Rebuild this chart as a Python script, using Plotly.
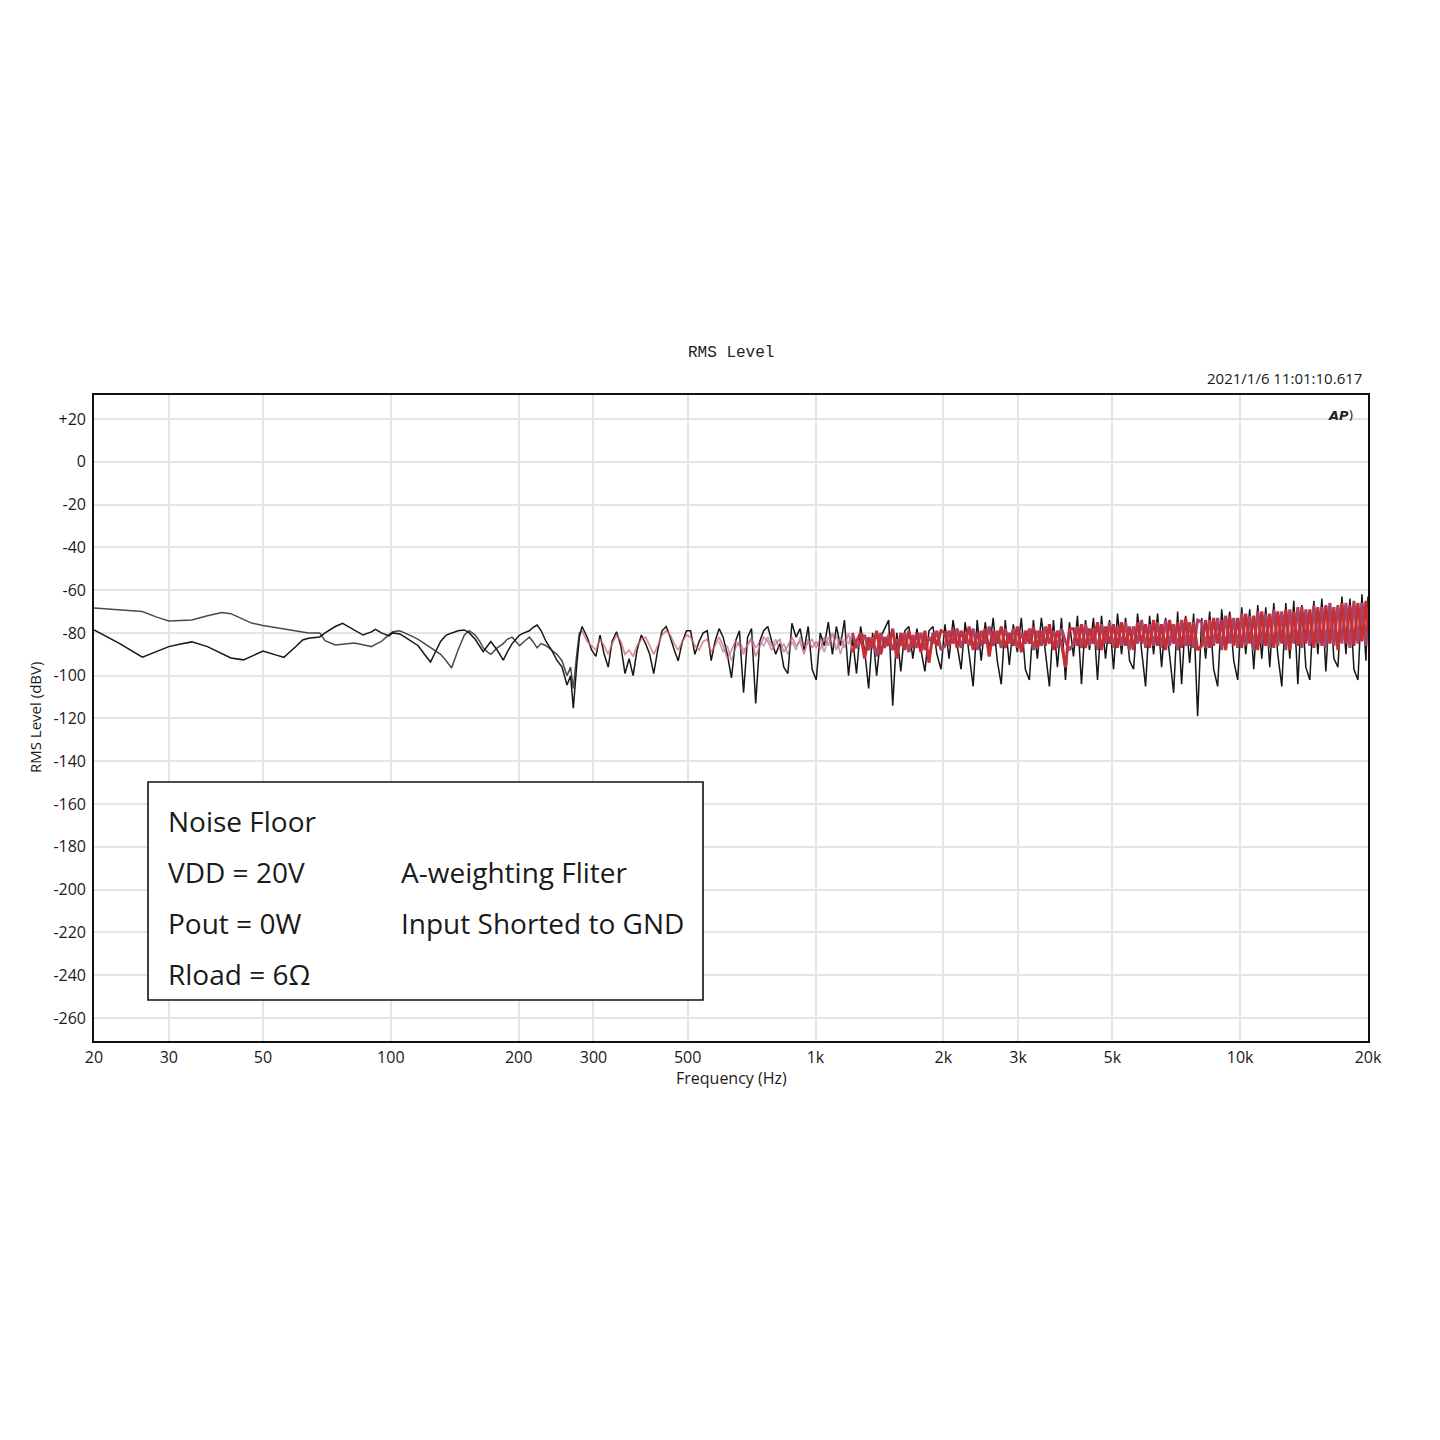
import plotly.graph_objects as go

# ---------------- data ----------------
freq_low_hz = [20, 23, 26, 28, 30, 32, 34, 37, 40, 42,
               45, 47, 50, 54, 56, 60, 62, 64, 68, 70,
               74, 77, 82, 86, 90, 92, 95, 99, 101, 105,
               108, 112, 116, 120, 124, 128, 131, 135, 139, 144,
               149, 153, 158, 162, 165, 169, 172, 178, 184, 188,
               193, 197, 201, 206, 212, 216, 221, 226, 232, 239,
               246, 253, 260, 265, 269, 274, 278]

black_low_dbv = [-78.6, -85, -91.3, -88.8, -86.4, -85.2, -84.2, -86.4, -89.8, -91.7,
                 -92.6, -91, -88.5, -90.5, -91.4, -86, -83.3, -82.5, -81.9, -80,
                 -77, -75.5, -78.5, -81, -79.5, -78.3, -80, -81.4, -80, -80.5,
                 -82, -84, -86, -90, -93.6, -88, -84, -81, -80, -79,
                 -78.6, -80, -83, -86, -88.8, -86, -84, -88, -92.7, -89,
                 -85, -83, -81, -80, -79, -77.5, -76.3, -79, -84, -88,
                 -92.7, -96, -104.4, -100, -115.2, -95, -82]

gray_low_dbv = [-68.4, -69.3, -70, -72.5, -74.4, -74.2, -74, -72, -70.5, -71,
                -73.5, -75.4, -76.5, -77.7, -78.2, -79.2, -79.6, -80, -80, -83.6,
                -85.6, -85.3, -84.7, -85.5, -86.4, -85.4, -84, -80.8, -79.5, -79,
                -80, -81.5, -83, -85, -87, -89, -90, -93, -96.4, -88,
                -81, -79, -81, -84, -87, -89, -90, -87, -85, -83,
                -82, -84, -86, -84, -82, -84, -87, -85, -86, -88,
                -90, -93, -100, -96, -106, -90, -80]

freq_high_hz = [282, 290, 297, 304, 311, 318, 325, 332, 340, 348,
                356, 364, 372, 380, 389, 398, 407, 416, 425, 435,
                445, 455, 465, 475, 486, 497,
                508, 520, 532, 544, 556, 568, 580, 593, 606, 620,
                634, 648, 662, 677, 692, 707, 723, 739, 755, 772,
                789, 806, 824, 842, 861, 880, 900, 920, 940, 961,
                982,
                1004, 1026, 1049, 1072, 1096, 1120, 1145, 1170, 1196, 1222,
                1249, 1277, 1305, 1334, 1363, 1393, 1424, 1455, 1487, 1520,
                1554, 1588, 1623, 1659, 1695, 1733, 1771, 1810, 1850, 1891,
                1932, 1975,
                2018, 2063, 2108, 2155, 2202, 2251, 2300, 2351, 2403, 2456,
                2510, 2565, 2621, 2679, 2738, 2798, 2860, 2923, 2987, 3053,
                3120, 3189, 3259, 3330, 3404, 3478, 3555, 3633, 3713, 3795,
                3878, 3963,
                4050, 4139, 4230, 4323, 4418, 4515, 4614, 4715, 4819, 4925,
                5033, 5143, 5256, 5372, 5490, 5610, 5733, 5859, 5988, 6120,
                6254, 6391, 6531, 6675, 6821, 6971, 7124, 7280, 7440, 7604,
                7771, 7941,
                8116, 8294, 8476, 8662, 8852, 9047, 9245, 9449, 9656, 9868,
                10085, 10307, 10533, 10765, 11001, 11243, 11490, 11742, 12000, 12263,
                12533, 12808, 13089, 13377, 13671, 13971, 14278, 14591, 14912, 15240,
                15574, 15916, 16266, 16623, 16989, 17362, 17743, 18133, 18531, 18938,
                19354, 19779, 20000]

black_high_dbv = [-77, -82, -88, -91, -81, -90, -96, -84, -79.5, -86,
                  -99, -92, -100, -88, -81, -85, -90, -99, -88, -79,
                  -77, -82, -88, -93, -84, -79,
                  -79, -90, -84, -80, -79, -93, -84, -78, -82, -90,
                  -101, -84, -79, -108, -82, -78, -113, -84, -79, -77,
                  -84, -90, -85, -96, -99, -75.5, -82, -78, -88, -77,
                  -97,
                  -102, -80, -86, -75, -90, -77, -86, -74, -100, -82,
                  -99, -77, -88, -106, -80, -100, -82, -78, -74, -114,
                  -80, -98, -79, -77, -92, -78, -88, -98, -79, -77,
                  -90, -97,
                  -76, -92, -74, -86, -97, -75, -90, -105, -74, -93,
                  -75, -88, -73, -93, -104, -74, -95, -76, -89, -73,
                  -97, -102, -74, -92, -73, -90, -105, -74, -96, -73,
                  -102, -75,
                  -91, -72, -104, -74, -88, -73, -102, -72, -92, -74,
                  -97, -71, -90, -73, -93, -97, -71, -88, -105, -72,
                  -90, -71, -96, -73, -89, -108, -70, -104, -72, -94,
                  -71, -119,
                  -73, -92, -70, -97, -105, -69, -88, -70, -93, -102,
                  -68, -90, -69, -97, -67, -92, -68, -96, -66, -90,
                  -105, -66, -92, -65, -104, -67, -96, -102, -65, -90,
                  -64, -98, -66, -92, -96, -63, -90, -64, -97, -102,
                  -62, -93, -63]

red_high_dbv = [-79, -84, -86, -88, -83, -86, -90, -85, -81, -84,
                -90, -88, -91, -86, -83, -82, -86, -90, -86, -81,
                -79, -81, -85, -88, -84, -81,
                -82, -86, -88, -84, -83, -89, -86, -82, -86, -92,
                -88, -84, -86, -90, -85, -83, -91, -86, -82, -84,
                -88, -85, -83, -89, -86, -82, -86, -84, -90, -83,
                -87,
                -84, -88, -82, -86, -80, -88, -82, -87, -80, -89,
                -84, -80, -92, -82, -87, -79, -90, -82, -86, -78,
                -92, -80, -88, -79, -87, -80, -89, -79, -94, -80,
                -86, -79,
                -80, -86, -78, -87, -79, -85, -77, -88, -80, -86,
                -78, -91, -79, -85, -77, -87, -80, -86, -77, -89,
                -79, -85, -77, -87, -79, -86, -76, -88, -79, -85,
                -96, -78,
                -78, -86, -76, -87, -78, -85, -75, -88, -77, -85,
                -76, -87, -75, -86, -77, -88, -75, -85, -76, -87,
                -74, -86, -76, -88, -74, -85, -75, -87, -73, -86,
                -75, -88,
                -86, -74, -87, -73, -85, -74, -88, -72, -86, -73,
                -87, -71, -85, -72, -88, -70, -86, -71, -87, -70,
                -85, -69, -88, -70, -86, -68, -85, -69, -87, -68,
                -86, -67, -85, -68, -88, -66, -85, -67, -86, -66,
                -84, -65, -80]

mauve_high_dbv = [None] * 33 + [
                  -84, -89, -86,
                  -93, -87, -84, -88, -86, -82, -87, -84, -86, -82,
                  -86, -83, -88, -85, -90, -84, -88, -82, -86, -85,
                  -83,
                  -87, -83, -89, -82, -86, -81, -90, -83, -85, -80,
                  -87, -84, -81, -88, -82, -91, -80, -87, -81, -88,
                  -83, -86, -80, -89, -81, -87, -80, -88, -82, -85,
                  -79, -88,
                  -86, -79, -85, -78, -87, -80, -86, -78, -88, -79,
                  -85, -77, -86, -79, -87, -78, -85, -78, -87, -80,
                  -85, -78, -88, -79, -86, -77, -85, -79, -87, -78,
                  -84, -88,
                  -85, -77, -87, -76, -86, -78, -88, -76, -85, -75,
                  -87, -77, -86, -75, -88, -77, -85, -74, -87, -76,
                  -86, -75, -87, -74, -86, -76, -88, -74, -86, -75,
                  -87, -74,
                  -75, -87, -74, -86, -73, -88, -72, -85, -73, -87,
                  -71, -86, -72, -88, -70, -85, -71, -87, -69, -86,
                  -70, -88, -69, -85, -68, -87, -69, -86, -67, -85,
                  -68, -87, -66, -86, -67, -85, -66, -87, -65, -85,
                  -66, -86, -70]

y_tick_vals = [20, 0, -20, -40, -60, -80, -100, -120, -140, -160, -180, -200, -220, -240, -260]
y_tick_text = ["+20", "0", "-20", "-40", "-60", "-80", "-100", "-120", "-140", "-160",
               "-180", "-200", "-220", "-240", "-260"]
x_tick_vals = [20, 30, 50, 100, 200, 300, 500, 1000, 2000, 3000, 5000, 10000, 20000]
x_tick_text = ["20", "30", "50", "100", "200", "300", "500", "1k", "2k", "3k", "5k", "10k", "20k"]

note_left = ["Noise Floor", "VDD = 20V", "Pout = 0W", "Rload = 6Ω"]
note_right = ["A-weighting Fliter", "Input Shorted to GND"]

for name, a, b in [("black", freq_low_hz + freq_high_hz, black_low_dbv + black_high_dbv),
                   ("gray", freq_low_hz, gray_low_dbv),
                   ("red", freq_high_hz, red_high_dbv),
                   ("mauve", freq_high_hz, mauve_high_dbv)]:
    if len(a) != len(b):
        raise ValueError(f"{name}: {len(a)} freqs vs {len(b)} values")

# split point between the light (sparse) and dense part of the coloured traces
split = next(i for i, f in enumerate(freq_high_hz) if f >= 1200)

# ---------------- figure ----------------
fig = go.Figure()
fig.add_trace(go.Scatter(x=freq_low_hz + [freq_high_hz[0]], y=gray_low_dbv + [red_high_dbv[0]],
                         mode="lines", line=dict(color="#4a4a4a", width=1.5),
                         hoverinfo="skip", showlegend=False))
fig.add_trace(go.Scatter(x=freq_low_hz + freq_high_hz, y=black_low_dbv + black_high_dbv,
                         mode="lines", line=dict(color="#161616", width=1.5),
                         hoverinfo="skip", showlegend=False))
# lighter part (below ~1.2 kHz)
fig.add_trace(go.Scatter(x=freq_high_hz[:split + 1], y=mauve_high_dbv[:split + 1], mode="lines",
                         line=dict(color="rgba(140,100,150,0.6)", width=1.6),
                         hoverinfo="skip", showlegend=False))
fig.add_trace(go.Scatter(x=freq_high_hz[:split + 1], y=red_high_dbv[:split + 1], mode="lines",
                         line=dict(color="rgba(210,100,112,0.75)", width=1.7),
                         hoverinfo="skip", showlegend=False))
# dense band
fig.add_trace(go.Scatter(x=freq_high_hz[split:], y=mauve_high_dbv[split:], mode="lines",
                         line=dict(color="rgb(165,70,105)", width=3),
                         hoverinfo="skip", showlegend=False))
fig.add_trace(go.Scatter(x=freq_high_hz[split:], y=red_high_dbv[split:], mode="lines",
                         line=dict(color="rgb(198,46,56)", width=3),
                         hoverinfo="skip", showlegend=False))

W, H = 1440, 1440
OFF = 8  # page body margin of the html page
L, R, T, B = 94, 1368, 395, 1041
pw, ph = R - L, B - T


def px(xp):
    return (xp - L) / pw


def py(yp):
    return (B - yp) / ph


tick_font = dict(family="Open Sans", size=16, color="#1a1a1a")

fig.update_layout(
    width=W, height=H, autosize=False,
    margin=dict(l=L - OFF, r=W - R + OFF, t=T - OFF, b=H - B + OFF, autoexpand=False),
    paper_bgcolor="white", plot_bgcolor="white",
    showlegend=False,
    xaxis=dict(type="log", range=[1.30103, 4.30103],
               tickvals=x_tick_vals, ticktext=x_tick_text, tickfont=tick_font,
               ticks="outside", ticklen=1, tickcolor="rgba(0,0,0,0)",
               showgrid=True, gridcolor="#e4e4e4", gridwidth=1.5,
               showline=True, linecolor="#111111", linewidth=1.6, mirror=True,
               zeroline=False),
    yaxis=dict(range=[-270.75, 31.2],
               tickvals=y_tick_vals, ticktext=y_tick_text, tickfont=tick_font,
               ticks="outside", ticklen=3, tickcolor="rgba(0,0,0,0)",
               showgrid=True, gridcolor="#e4e4e4", gridwidth=1.5,
               showline=True, linecolor="#111111", linewidth=1.6, mirror=True,
               zeroline=False),
)

annotations = [
    dict(text="RMS Level", x=0.5, y=py(353), xref="paper", yref="paper",
         showarrow=False, xanchor="center", yanchor="middle",
         font=dict(family="Liberation Mono", size=16, color="#222222")),
    dict(text="2021/1/6 11:01:10.617", x=px(1364), y=py(378), xref="paper", yref="paper",
         showarrow=False, xanchor="right", yanchor="middle",
         font=dict(family="Open Sans", size=15, color="#1a1a1a")),
    dict(text="<b><i>AP</i></b>)", x=px(1356), y=py(415), xref="paper", yref="paper",
         showarrow=False, xanchor="right", yanchor="middle",
         font=dict(family="DejaVu Sans", size=13, color="#222222")),
    dict(text="Frequency (Hz)", x=0.5, y=py(1078), xref="paper", yref="paper",
         showarrow=False, xanchor="center", yanchor="middle",
         font=dict(family="Open Sans", size=16, color="#1a1a1a")),
    dict(text="RMS Level (dBV)", x=px(35), y=0.5, xref="paper", yref="paper",
         showarrow=False, xanchor="center", yanchor="middle", textangle=-90,
         font=dict(family="Open Sans", size=15, color="#1a1a1a")),
]

box_font = dict(family="Open Sans", size=28, color="#1a1a1a")
for i, t in enumerate(note_left):
    annotations.append(dict(text=t, x=px(166), y=py(821 + 51 * i), xref="paper", yref="paper",
                            showarrow=False, xanchor="left", yanchor="middle", font=box_font))
for i, t in enumerate(note_right):
    annotations.append(dict(text=t, x=px(399), y=py(872 + 51 * i), xref="paper", yref="paper",
                            showarrow=False, xanchor="left", yanchor="middle", font=box_font))

fig.update_layout(
    annotations=annotations,
    shapes=[dict(type="rect", xref="paper", yref="paper",
                 x0=px(148), x1=px(703), y0=py(1000), y1=py(782),
                 line=dict(color="#111111", width=1.6), fillcolor="white", layer="above")],
)

fig.write_html("out.html")
